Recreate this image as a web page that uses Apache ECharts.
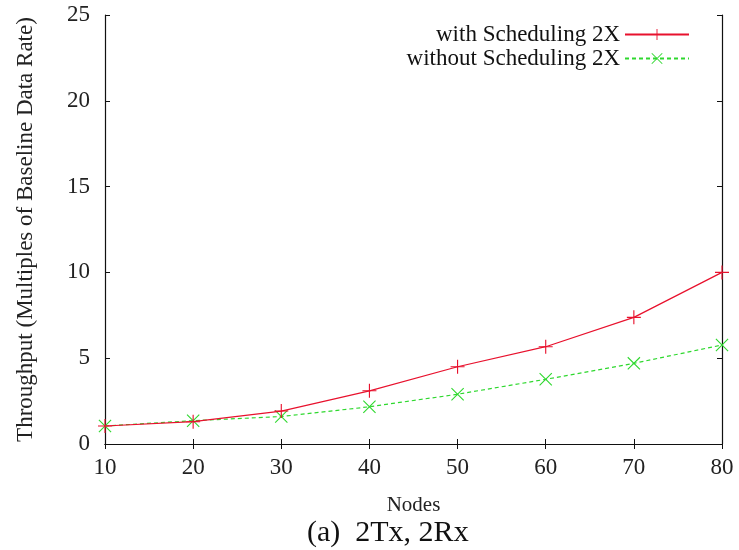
<!DOCTYPE html>
<html>
<head>
<meta charset="utf-8">
<script src="https://cdn.jsdelivr.net/npm/echarts@6/dist/echarts.min.js"></script>
<style>html,body{margin:0;padding:0;background:#fff}#c{width:739px;height:550px}</style>
</head>
<body>
<div id="c"></div>
<script>
const nodes = [10, 20, 30, 40, 50, 60, 70, 80];
const withScheduling = [1.05, 1.3, 1.92, 3.1, 4.5, 5.67, 7.38, 10.0];
const withoutScheduling = [1.05, 1.36, 1.6, 2.17, 2.9, 3.77, 4.7, 5.77];
const yTicks = [0, 5, 10, 15, 20, 25];

const FONT = '"Liberation Serif", "DejaVu Serif", serif';
const plusPath = 'path://M0,4.6h10v0.8h-10z M4.6,0h0.8v10h-0.8z';
const crossPath = 'path://M0,0.6L0.6,0L10,9.4L9.4,10Z M9.4,0L10,0.6L0.6,10L0,9.4Z';

const chart = echarts.init(document.getElementById('c'));
chart.setOption({
  animation: false,
  backgroundColor: '#fff',
  grid: { left: 105, right: 17, top: 15, bottom: 106, containLabel: false },
  title: {
    text: '(a)  2Tx, 2Rx',
    left: 302, top: 513,
    textStyle: { fontFamily: FONT, fontSize: 30, fontWeight: 'normal', color: '#111' }
  },
  legend: {
    orient: 'vertical',
    right: 44, top: 18,
    align: 'right',
    itemWidth: 64, itemHeight: 14, itemGap: 1,
    textStyle: { fontFamily: FONT, fontSize: 23, lineHeight: 20, color: '#111' },
    data: ['with Scheduling 2X', 'without Scheduling 2X']
  },
  xAxis: [{
    type: 'value', min: 10, max: 80, interval: 10,
    name: 'Nodes', nameLocation: 'middle', nameGap: 51,
    nameTextStyle: { fontFamily: FONT, fontSize: 21, color: '#222' },
    axisLine: { lineStyle: { color: '#111', width: 1.2 } },
    axisTick: { inside: true, length: 5, lineStyle: { color: '#111' } },
    axisLabel: { fontFamily: FONT, fontSize: 23, color: '#222', margin: 12 },
    splitLine: { show: false }
  }, {
    type: 'value', min: 10, max: 80, interval: 10, position: 'top',
    axisLine: { show: true, lineStyle: { color: '#111', width: 1.2 } },
    axisTick: { inside: true, length: 5, lineStyle: { color: '#111' } },
    axisLabel: { show: false }, splitLine: { show: false }
  }],
  yAxis: [{
    type: 'value', min: 0, max: 25, interval: 5,
    name: 'Throughput (Multiples of Baseline Data Rate)', nameLocation: 'middle', nameGap: 68,
    nameTextStyle: { fontFamily: FONT, fontSize: 23, color: '#222' },
    axisLine: { show: true, lineStyle: { color: '#111', width: 1.2 } },
    axisTick: { show: true, inside: true, length: 5, lineStyle: { color: '#111' } },
    axisLabel: { fontFamily: FONT, fontSize: 23, color: '#222', margin: 15 },
    splitLine: { show: false }
  }, {
    type: 'value', min: 0, max: 25, interval: 5, position: 'right',
    axisLine: { show: true, lineStyle: { color: '#111', width: 1.2 } },
    axisTick: { show: true, inside: true, length: 5, lineStyle: { color: '#111' } },
    axisLabel: { show: false }, splitLine: { show: false }
  }],
  series: [{
    name: 'with Scheduling 2X', type: 'line',
    data: nodes.map((n, i) => [n, withScheduling[i]]),
    symbol: plusPath, symbolSize: 14,
    lineStyle: { color: '#e8112d', width: 1.2 },
    itemStyle: { color: '#e8112d' },
    z: 3
  }, {
    name: 'without Scheduling 2X', type: 'line',
    data: nodes.map((n, i) => [n, withoutScheduling[i]]),
    symbol: crossPath, symbolSize: 13,
    lineStyle: { color: '#2ed82e', width: 1.2, type: [4, 3] },
    itemStyle: { color: '#2ed82e' },
    z: 2
  }]
});
</script>
</body>
</html>
